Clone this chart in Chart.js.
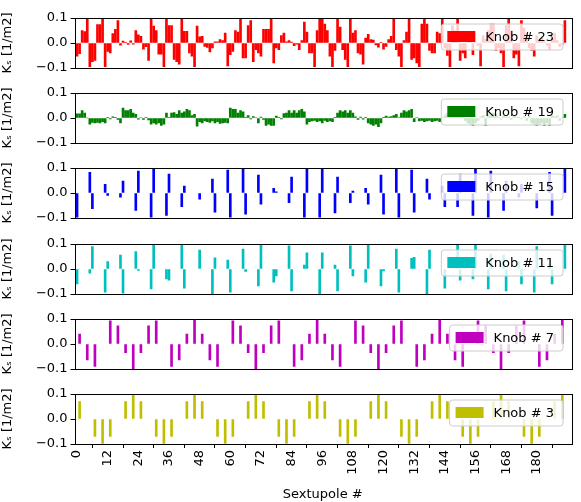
<!DOCTYPE html>
<html>
<head>
<meta charset="utf-8">
<script src="https://cdn.jsdelivr.net/npm/chart.js@4.4.0/dist/chart.umd.min.js"></script>
<style>
body { margin:0; background:#fff; }
#wrap { position:relative; width:581px; height:502px; }
canvas { position:absolute; left:0; }
</style>
</head>
<body>
<div id="wrap"></div>
<script>
// x positions are sextupole numbers 0..191
var xTicks = [0,12,24,36,48,60,72,84,96,108,120,132,144,156,168,180];
var yTicks = [-0.1, 0, 0.1];

var knob23 = [-0.053,-0.043,0.05,0.046,0.1,-0.095,-0.075,-0.07,0.074,0.074,0.1,-0.095,-0.034,-0.04,0.038,0.055,0.09,-0.009,0.008,0.003,
-0.006,0.009,-0.005,0.05,0.033,0.027,-0.025,-0.015,-0.07,0.1,0.068,0.05,-0.045,-0.045,-0.095,0.1,0.07,0.07,-0.066,-0.075,
-0.085,0.1,0.047,0.047,-0.04,-0.053,-0.095,0.068,0.025,0.027,-0.014,-0.018,-0.036,-0.02,0.005,0.005,0.014,0.01,0.04,-0.092,
-0.047,-0.034,0.05,0.044,0.1,-0.06,-0.06,0.07,0.09,-0.075,-0.027,-0.04,-0.053,0.055,0.055,0.055,0.1,-0.08,-0.02,-0.027,
0.03,0.04,0.005,0.01,0.004,-0.011,-0.005,-0.027,0.01,0.084,0.044,-0.04,-0.04,-0.095,0.05,0.1,0.1,0.076,0.05,-0.053,
-0.095,-0.03,0.1,0.064,-0.027,-0.066,-0.095,0.1,0.04,0.05,-0.04,-0.045,-0.085,0.02,0.035,0.014,0.012,-0.008,-0.017,0.003,
-0.025,-0.014,0.014,0.027,0.1,-0.027,-0.053,-0.095,0.01,0.044,0.1,-0.066,-0.06,-0.08,-0.095,0.076,0.1,0.076,-0.03,-0.04,
-0.04,0.044,0.038,0.1,-0.02,-0.05,-0.095,0.07,0.05,0.1,-0.07,-0.04,-0.06,0.02,0.01,-0.047,0.005,-0.01,-0.092,0.03,
0.015,0.05,0.076,0.076,-0.03,-0.02,-0.04,-0.095,0.07,0.1,0.05,-0.06,-0.045,-0.092,0.09,0.06,0.04,-0.02,-0.03,-0.053,
0.03,0.01,0.02,0.005,-0.01,-0.027,0.02,0.04,0.01,-0.014,-0.005,0.09];

var knob19 = [0.017,0.017,0.03,0.02,0,-0.025,-0.018,-0.02,-0.018,-0.02,-0.015,-0.02,0.003,-0.004,0.005,0.003,-0.006,-0.02,0.04,0.03,
0.03,0.035,0.02,0.015,-0.005,0.002,-0.006,0.003,-0.008,-0.025,-0.02,-0.025,-0.02,-0.03,-0.025,0.02,0.001,0.02,0.022,0.015,
0.03,0.02,0.025,0.035,0.03,0.01,0.015,-0.033,-0.015,-0.02,-0.012,-0.015,-0.018,-0.012,-0.02,-0.015,-0.022,-0.02,-0.018,-0.02,
0.04,0.035,0.035,0.02,0.03,0.025,0.003,0.01,-0.004,0.006,0.002,-0.02,0.004,-0.006,-0.03,-0.025,-0.03,-0.03,0.008,0.003,
-0.004,0.018,0.02,0.03,0.02,0.03,0.02,0.03,0.035,0.025,-0.025,-0.015,-0.012,-0.01,-0.015,-0.012,-0.02,-0.01,-0.015,-0.012,
-0.015,0.003,0.02,0.03,0.025,0.03,0.02,0.03,0.02,0.005,-0.006,0.004,-0.005,0.003,-0.02,-0.025,-0.03,-0.025,-0.035,-0.02,
0.003,0.008,0.004,0.006,0.01,0.015,0.002,0.02,0.03,0.025,0.03,0.035,-0.015,0.002,-0.012,-0.01,-0.015,-0.012,-0.01,-0.015,
-0.012,-0.01,-0.015,0.002,0.01,0.02,0.015,0.01,0.02,0.005,0.004,0.01,-0.01,-0.02,-0.025,-0.03,-0.02,-0.01,0.005,0.01,
-0.03,0.015,0.01,0.02,0.015,0.005,-0.005,0.01,0.005,0.004,-0.006,0.01,0.005,0.003,-0.004,0.006,-0.01,0.008,-0.02,-0.025,
-0.03,-0.025,-0.02,-0.03,-0.02,-0.03,0.01,0.005,0.008,-0.01,0.004,0.015];

var knob15Idx = [0,5,6,11,12,17,18,23,24,29,30,35,36,41,42,48,53,54,59,60,65,66,71,72,77,78,83,84,89,90,95,96,101,102,107,108,113,114,119,120,125,126,131,132,137,138,143,144,149,150,155,156,161,162,167,168,173,174,180,185,186,191];
var knob15Val = [-0.097,0.083,-0.063,0.035,-0.01,-0.017,0.048,-0.07,0.088,-0.097,0.096,-0.09,0.076,-0.055,0.028,-0.025,0.056,-0.077,0.092,-0.097,0.096,-0.085,0.072,-0.045,0.019,0.005,-0.039,0.064,-0.097,0.096,-0.097,0.096,-0.08,0.064,-0.039,0.008,0.019,-0.045,0.072,-0.085,0.096,-0.097,0.092,-0.077,0.056,-0.025,0.028,-0.055,-0.055,0.076,-0.09,0.096,-0.097,0.088,-0.07,0.048,-0.017,0.035,-0.06,0.083,-0.09,0.096];

var knob11Idx = [0,5,6,11,12,17,18,23,24,29,30,35,36,41,42,48,53,54,59,60,65,66,71,72,77,78,83,84,89,90,95,96,101,102,107,108,113,114,119,120,125,126,131,132,137,138,144,149,150,155,156,161,162,167,168,173,174,179,180,185,186,191];
var knob11Val = [-0.06,-0.017,0.09,-0.093,0.03,0.056,-0.097,0.07,-0.006,-0.08,0.1,-0.04,-0.045,0.1,-0.077,0.076,-0.1,0.045,0.036,-0.093,0.08,-0.01,-0.068,0.1,-0.053,-0.028,0.093,-0.088,0.016,0.065,-0.1,0.065,0.016,-0.088,0.093,-0.028,-0.053,0.1,-0.068,-0.008,0.08,-0.093,0.043,0.047,-0.1,0.076,-0.077,0.1,-0.045,-0.04,0.1,-0.08,0.06,0.056,-0.088,0.03,-0.06,-0.093,0.09,0.02,-0.06,0.1];

var knob7Idx = [1,4,7,13,16,19,22,25,28,31,37,40,43,46,49,52,55,61,64,67,70,73,76,79,85,88,91,94,97,100,103,109,112,115,118,121,124,127,133,136,139,142,145,148,151,157,160,163,166,169,172,175,181,184,187,190];
var knob7Val = [0.04,-0.064,-0.09,0.093,0.073,-0.035,-0.1,-0.035,0.073,0.093,-0.09,-0.064,0.04,0.1,0.04,-0.064,-0.09,0.093,0.073,-0.035,-0.1,-0.035,0.073,0.093,-0.09,-0.064,0.04,0.1,0.04,-0.064,-0.09,0.093,0.073,-0.035,-0.1,-0.035,0.073,0.093,-0.09,-0.064,0.04,0.1,0.04,-0.064,-0.09,0.093,0.073,-0.035,-0.1,-0.035,0.073,0.093,-0.09,-0.064,0.04,0.1];

var knob3Idx = [1,7,10,13,19,22,25,31,34,37,43,46,49,55,58,61,67,70,73,79,82,85,91,94,97,103,106,109,115,118,121,127,130,133,139,142,145,151,154,157,163,166,169,175,178,181,187,190];
var knob3Val = [0.07,-0.07,-0.098,-0.07,0.07,0.097,0.07,-0.07,-0.098,-0.07,0.07,0.097,0.07,-0.07,-0.098,-0.07,0.07,0.097,0.07,-0.07,-0.098,-0.07,0.07,0.097,0.07,-0.07,-0.098,-0.07,0.07,0.097,0.07,-0.07,-0.098,-0.07,0.07,0.097,0.07,-0.07,-0.098,-0.07,0.07,0.097,0.07,-0.07,-0.098,-0.07,0.07,0.097];

function dense(vals) { return vals.map(function(v, i) { return {x: i, y: v}; }); }
function sparse(idx, vals) { return idx.map(function(x, i) { return {x: x, y: vals[i]}; }); }

var panels = [
  {label: 'Knob # 23', color: '#ff0000', data: dense(knob23)},
  {label: 'Knob # 19', color: '#008000', data: dense(knob19)},
  {label: 'Knob # 15', color: '#0000ff', data: sparse(knob15Idx, knob15Val)},
  {label: 'Knob # 11', color: '#00bfbf', data: sparse(knob11Idx, knob11Val)},
  {label: 'Knob # 7', color: '#bf00bf', data: sparse(knob7Idx, knob7Val)},
  {label: 'Knob # 3', color: '#bfbf00', data: sparse(knob3Idx, knob3Val)}
];

var FONT = 'DejaVu Sans';
var PAD = 14;

// matplotlib-like frame and in-axes legend
var framePlugin = {
  id: 'frame',
  afterDraw: function(chart, args, opts) {
    var a = chart.chartArea, c = chart.ctx;
    c.save();
    c.font = '13px "' + FONT + '"';
    var tw = c.measureText(opts.label).width;
    var w = 8 + 28 + 11 + tw + 6, h = 26;
    var x = a.right - 8 - w, y = a.top + 6;
    c.beginPath();
    c.roundRect(x, y, w, h, 3);
    c.fillStyle = 'rgba(255,255,255,0.8)';
    c.fill();
    c.strokeStyle = '#cccccc';
    c.lineWidth = 1;
    c.stroke();
    c.fillStyle = opts.color;
    c.fillRect(x + 6, y + 7, 28, 11);
    c.fillStyle = '#000';
    c.textBaseline = 'middle';
    c.fillText(opts.label, x + 44, y + h / 2 + 1);
    c.strokeStyle = '#000';
    c.strokeRect(Math.round(a.left) + 0.5, Math.round(a.top) + 0.5, Math.round(a.right - a.left), Math.round(a.bottom - a.top));
    c.restore();
  }
};

var wrap = document.getElementById('wrap');
panels.forEach(function(p, i) {
  var last = i === panels.length - 1;
  var top = Math.round(18 + 75.2 * i);
  var cv = document.createElement('canvas');
  cv.width = 581;
  cv.height = last ? 502 - (top - PAD) : 50 + 2 * PAD;
  cv.style.top = (top - PAD) + 'px';
  wrap.appendChild(cv);

  new Chart(cv.getContext('2d'), {
    type: 'bar',
    data: {
      datasets: [{
        data: p.data,
        backgroundColor: p.color,
        barThickness: 2,
        borderWidth: 0
      }]
    },
    plugins: [framePlugin],
    options: {
      responsive: false,
      animation: false,
      devicePixelRatio: 1,
      layout: {padding: {top: PAD, bottom: last ? 0 : PAD, right: 10, left: 0}},
      plugins: {
        legend: {display: false},
        tooltip: {enabled: false},
        frame: {label: p.label, color: p.color}
      },
      scales: {
        x: {
          type: 'linear',
          min: -1,
          max: 193.4,
          display: last,
          offset: false,
          afterBuildTicks: function(s) { s.ticks = xTicks.map(function(v) { return {value: v}; }); },
          afterFit: function(s) { s.height = last ? 58 : 0; },
          border: {display: false},
          grid: {drawOnChartArea: false, drawTicks: true, tickLength: 4, color: '#000'},
          ticks: {minRotation: 90, maxRotation: 90, color: '#000', font: {family: FONT, size: 13}, padding: 2},
          title: {display: true, text: 'Sextupole #', color: '#000', font: {family: FONT, size: 13}, padding: {top: 0, bottom: 0}}
        },
        y: {
          min: -0.1,
          max: 0.1,
          afterBuildTicks: function(s) { s.ticks = yTicks.map(function(v) { return {value: v}; }); },
          afterFit: function(s) { s.width = 74.5; },
          border: {display: false},
          grid: {drawOnChartArea: false, drawTicks: true, tickLength: 4, color: '#000'},
          ticks: {
            color: '#000',
            font: {family: FONT, size: 13},
            padding: 3,
            callback: function(v) { return (v < 0 ? '\u2212' : '') + Math.abs(v).toFixed(1); }
          },
          title: {display: true, text: 'K\u209B [1/m2]', color: '#000', font: {family: FONT, size: 13}, padding: {top: 0, bottom: 2}}
        }
      }
    }
  });
});
</script>
</body>
</html>
